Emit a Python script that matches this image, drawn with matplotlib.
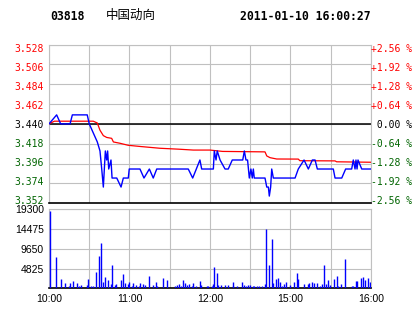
import matplotlib
matplotlib.use("Agg")
import matplotlib.pyplot as plt
import matplotlib.transforms as mtransforms
import numpy as np

# ---------------- data ----------------
prev_close = 3.440
price_ticks = [3.352, 3.374, 3.396, 3.418, 3.440, 3.462, 3.484, 3.506, 3.528]
pct_labels = ["-2.56 %", "-1.92 %", "-1.28 %", "-0.64 %", " 0.00 %",
              "+0.64 %", "+1.28 %", "+1.92 %", "+2.56 %"]
time_ticks = [0, 60, 120, 180, 240]
time_labels = ["10:00", "11:00", "12:00", "15:00", "16:00"]
vol_ticks = [4825, 9650, 14475, 19300]

# trading minutes since 10:00 (lunch break removed)
price_t = [0, 5.7, 8.7, 15.7, 17.4, 28.5, 30, 33, 36, 38, 39.3, 40.5, 42, 43,
           43.7, 44.5, 46.2, 47, 50.5, 53.7, 55.4, 59.1, 59.8, 67.8, 70.8,
           74.8, 77.7, 80.3, 103.8, 107.1, 112.5, 113.8, 122.5, 123.2, 124.5,
           125.4, 127.5, 131.2, 133.6, 136.6, 144.4, 145.6, 146.8, 148, 149.3,
           150.5, 151.5, 152.3, 153, 161, 162.3, 163.5, 164.2, 165.2, 166,
           167.2, 183.4, 185.8, 190.1, 193.3, 196.3, 198.3, 200, 211.9, 213.2,
           218.2, 221.1, 225.6, 226.8, 228.1, 228.8, 229.6, 230.3, 233.1, 240]
price_v = [3.44, 3.45, 3.44, 3.44, 3.45, 3.45, 3.44, 3.43, 3.42, 3.41, 3.39,
           3.37, 3.41, 3.40, 3.41, 3.39, 3.40, 3.38, 3.38, 3.37, 3.38, 3.38,
           3.39, 3.39, 3.38, 3.39, 3.38, 3.39, 3.39, 3.38, 3.40, 3.39, 3.39,
           3.41, 3.40, 3.41, 3.40, 3.39, 3.39, 3.40, 3.40, 3.41, 3.40, 3.40,
           3.38, 3.39, 3.38, 3.39, 3.38, 3.38, 3.37, 3.37, 3.36, 3.37, 3.39,
           3.38, 3.38, 3.39, 3.40, 3.39, 3.40, 3.40, 3.39, 3.39, 3.38, 3.38,
           3.39, 3.39, 3.40, 3.39, 3.40, 3.39, 3.40, 3.39, 3.39]

avg_t = [0, 4, 33, 36, 38, 40.5, 43, 46.7, 48, 53, 59, 67.8, 82.7, 96.4,
         107.6, 120, 129.4, 161, 162.3, 164.7, 169.7, 185.8, 187, 213.2,
         214.4, 240]
avg_v = [3.440, 3.443, 3.443, 3.441, 3.433, 3.427, 3.425, 3.424, 3.420,
         3.4185, 3.4163, 3.415, 3.413, 3.412, 3.411, 3.411, 3.4095, 3.409,
         3.4045, 3.4026, 3.4011, 3.401, 3.3992, 3.399, 3.398, 3.3975]

vol_t = [0.5, 5.5, 9.2, 11.7, 14.7, 15.4, 17.7, 20.6, 22.6, 24.1, 28.5, 29.3,
         31.5, 33, 35.3, 37.5, 39, 40.5, 42, 44.2, 46.4, 47.2, 49.4, 50.2,
         53.9, 55.4, 56.9, 59.1, 59.9, 62.1, 62.8, 65.1, 67.3, 68, 70.3, 71.8,
         74.8, 77.7, 80, 80.7, 85.2, 88.2, 94.1, 95.6, 97.1, 98.6, 100.1,
         101.6, 103.1, 104.6, 106.8, 107.6, 109.8, 112.8, 113.6, 118, 118.8,
         121.2, 122.5, 123.2, 125.4, 126.2, 128, 131.4, 133.6, 136.9, 137.4,
         140.1, 144.1, 145.6, 147.1, 148.6, 149.6, 152.3, 153, 155.3, 156.8,
         159, 161.2, 162, 164.2, 166.5, 167.2, 169.4, 170.9, 172.4, 173.9,
         175.4, 176.9, 179.9, 182.8, 185.1, 185.8, 190.3, 193.3, 194.1, 196.3,
         197.8, 200, 202.2, 203.7, 205.2, 206.7, 208.2, 209.7, 212.7, 214.9,
         215.6, 217.9, 220.9, 226.1, 226.8, 229, 229.8, 232.8, 234.3, 235.8,
         238, 239.5]
vol_v = [18900, 7720, 2270, 1370, 560, 1300, 1780, 1300, 560, 800, 800, 2270,
         560, 560, 4060, 7890, 11140, 1550, 2840, 2030, 1060, 5690, 800, 1060,
         2030, 3490, 1220, 1060, 1550, 560, 1300, 800, 560, 1300, 1060, 800,
         3000, 800, 1550, 560, 2520, 2030, 560, 800, 1060, 560, 2030, 1300,
         800, 1060, 560, 1300, 560, 1780, 800, 560, 560, 560, 1060, 5280,
         3810, 800, 800, 800, 800, 560, 1470, 560, 1470, 800, 560, 800, 800,
         560, 560, 560, 560, 560, 1060, 14490, 5690, 11970, 1370, 2200, 2440,
         1470, 560, 1060, 1470, 800, 1470, 3740, 2270, 1060, 1060, 1300, 1470,
         1300, 1300, 560, 1060, 5690, 1060, 2030, 800, 2270, 3000, 560, 1060,
         7160, 560, 560, 1780, 1780, 2520, 2760, 2030, 2520, 1470]

# ---------------- style ----------------
RED = "#ff0000"
GREEN = "#006400"
GRID = "#c0c0c0"
MONO = "DejaVu Sans Mono"
SANS = "Liberation Sans"

W, H = 414, 314
fig = plt.figure(figsize=(W / 100, H / 100), dpi=100)
fig.patch.set_facecolor("white")


def shift(lbl, dy_px):
    lbl.set_transform(lbl.get_transform() +
                      mtransforms.ScaledTranslation(0, dy_px / 100, fig.dpi_scale_trans))


def price_color(v):
    if v > prev_close + 1e-9:
        return RED
    if v < prev_close - 1e-9:
        return GREEN
    return "black"


x0, x1 = 49, 371
ax = fig.add_axes([x0 / W, 1 - 203.3 / H, (x1 - x0) / W, (203.3 - 44.5) / H])
axv = fig.add_axes([x0 / W, 1 - 288.3 / H, (x1 - x0) / W, (288.3 - 209.3) / H])

# ---- price panel ----
ax.set_xlim(0, 240)
ax.set_ylim(price_ticks[0], price_ticks[-1])
ax.set_xticks(np.arange(0, 241, 30))
ax.set_yticks(price_ticks)
ax.grid(True, color=GRID, lw=0.8, zorder=0)
ax.set_axisbelow(True)
ax.tick_params(axis="x", length=0, labelbottom=False)
ax.tick_params(axis="y", length=0, pad=3.6)
ax.set_yticklabels([f"{v:.3f}" for v in price_ticks], family=MONO, fontsize=7)
n = len(price_ticks) - 1
for i, (lbl, v) in enumerate(zip(ax.get_yticklabels(), price_ticks)):
    lbl.set_color(price_color(v))
    shift(lbl, 3.3 - 6.6 * i / n)
for s in ["top", "left", "right"]:
    ax.spines[s].set_color(GRID)
    ax.spines[s].set_linewidth(0.8)
ax.spines["bottom"].set_color("black")
ax.spines["bottom"].set_linewidth(1.2)
ax.axhline(prev_close, color="black", lw=1.1, zorder=1)

ax.plot(avg_t, avg_v, color=RED, lw=0.9, zorder=3)
ax.plot(price_t, price_v, color="#0000ff", lw=1.0, zorder=4)

ax2 = ax.twinx()
ax2.set_ylim(ax.get_ylim())
ax2.set_yticks(price_ticks)
ax2.set_yticklabels(pct_labels, family=MONO, fontsize=7)
ax2.tick_params(axis="y", length=0, pad=0.3)
for i, (lbl, v) in enumerate(zip(ax2.get_yticklabels(), price_ticks)):
    lbl.set_color(price_color(v))
    shift(lbl, 3.5 - 7.0 * i / n)
for s in ax2.spines.values():
    s.set_visible(False)

# ---- volume panel ----
axv.set_xlim(0, 240)
axv.set_ylim(0, vol_ticks[-1])
axv.set_xticks(np.arange(0, 241, 30))
axv.set_xticklabels([time_labels[time_ticks.index(t)] if t in time_ticks else ""
                     for t in range(0, 241, 30)], family=SANS, fontsize=7.5)
axv.set_yticks(vol_ticks)
axv.set_yticklabels([str(v) for v in vol_ticks], family=SANS, fontsize=7.5)
for i, lbl in enumerate(axv.get_yticklabels()):
    shift(lbl, -2.3 - 0.5 * i)
axv.tick_params(length=0)
axv.tick_params(axis="y", pad=3.6)
axv.tick_params(axis="x", pad=4)
axv.grid(True, color=GRID, lw=0.8, zorder=0)
axv.set_axisbelow(True)
for s in ["top", "left", "right"]:
    axv.spines[s].set_color(GRID)
    axv.spines[s].set_linewidth(0.8)
axv.spines["bottom"].set_color("black")
axv.spines["bottom"].set_linewidth(1.2)
axv.vlines(vol_t, 0, vol_v, color="#0000ff", lw=1.0, zorder=3)

# ---- header ----
fig.text(50 / W, 1 - 16.5 / H, "03818", family=MONO, weight="bold",
         fontsize=8.3, va="center", ha="left")
fig.text(106 / W, 1 - 15.5 / H, "中国动向", family=["Noto Sans CJK SC", "DejaVu Sans"],
         fontsize=9, va="center", ha="left")
fig.text(371 / W, 1 - 16.5 / H, "2011-01-10 16:00:27", family=MONO, weight="bold",
         fontsize=8.3, va="center", ha="right")

fig.savefig("out.png", dpi=100, facecolor="white")
